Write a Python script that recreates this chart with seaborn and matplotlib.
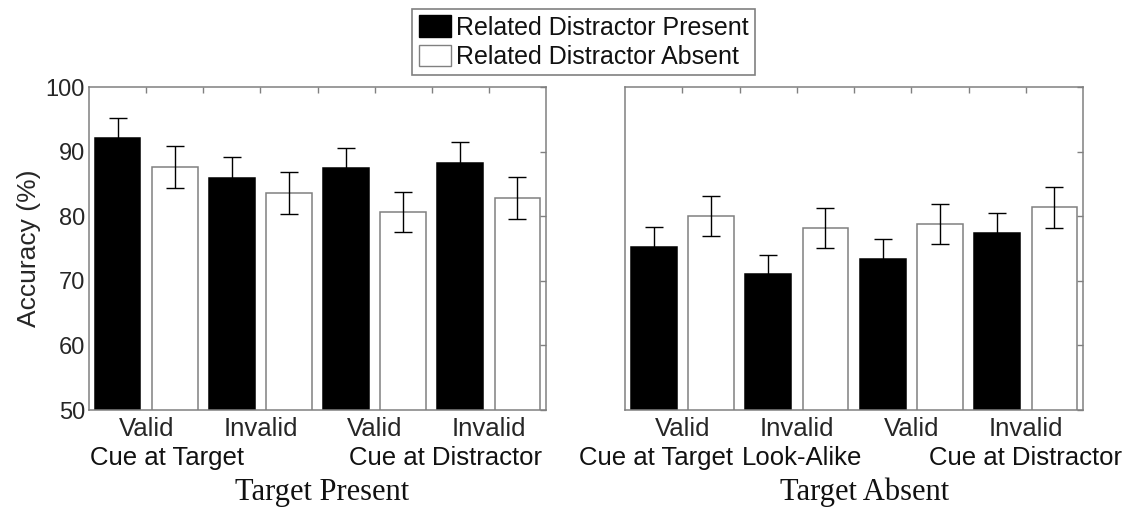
import numpy as np
import pandas as pd
import matplotlib
matplotlib.use("Agg")
import matplotlib.pyplot as plt
import matplotlib.transforms as mtransforms
from matplotlib.patches import Patch
import seaborn as sns

# values (accuracy in %, error = half length of error bar)
cue_labels = ["Valid", "Invalid", "Valid", "Invalid"]
distractor_levels = ["Related Distractor Present", "Related Distractor Absent"]

present_rd_acc = [92.1, 85.9, 87.4, 88.2]
present_rd_err = [3.1, 3.3, 3.2, 3.3]
present_nrd_acc = [87.6, 83.6, 80.7, 82.8]
present_nrd_err = [3.2, 3.2, 3.1, 3.2]

absent_rd_acc = [75.2, 71.0, 73.4, 77.4]
absent_rd_err = [3.2, 3.0, 3.1, 3.1]
absent_nrd_acc = [80.0, 78.2, 78.8, 81.4]
absent_nrd_err = [3.1, 3.1, 3.1, 3.2]

panel_names = ["Target Present", "Target Absent"]
present_sub = ["Cue at Target", "Cue at Distractor"]
absent_sub = ["Cue at Target", "Look-Alike", "Cue at Distractor"]

cond_keys = ["c1", "c2", "c3", "c4"]


def make_df(rd_acc, rd_err, nrd_acc, nrd_err):
    rows = []
    for k, a, e in zip(cond_keys, rd_acc, rd_err):
        rows.append((k, distractor_levels[0], a, e))
    for k, a, e in zip(cond_keys, nrd_acc, nrd_err):
        rows.append((k, distractor_levels[1], a, e))
    return pd.DataFrame(rows, columns=["cond", "distractor", "acc", "err"])


df_present = make_df(present_rd_acc, present_rd_err, present_nrd_acc, present_nrd_err)
df_absent = make_df(absent_rd_acc, absent_rd_err, absent_nrd_acc, absent_nrd_err)

sns.set_style("white")
plt.rcParams["font.family"] = ["Liberation Sans", "DejaVu Sans"]
plt.rcParams["text.color"] = "#111111"

GRAY = "#808080"
palette = {distractor_levels[0]: "black", distractor_levels[1]: "white"}

fig = plt.figure(figsize=(11.27, 5.08), dpi=100)
ax1 = fig.add_axes([0.0790, 0.1929, 0.4055, 0.6358])
ax2 = fig.add_axes([0.5546, 0.1929, 0.4064, 0.6358])

# sub label placement (x in category units)
sub_pos = {
    0: [0.18, 2.62],
    1: [-0.23, 1.05, 3.0],
}
xlabel_x = [0.509, 0.524]

for i, (ax, df, subs) in enumerate(zip([ax1, ax2], [df_present, df_absent],
                                       [present_sub, absent_sub])):
    sns.barplot(data=df, x="cond", y="acc", hue="distractor", order=cond_keys,
                hue_order=distractor_levels, palette=palette, saturation=1,
                width=1.0, gap=0.2, edgecolor=GRAY, linewidth=1.1,
                errorbar=None, legend=False, ax=ax)

    for cont, level in zip(ax.containers, distractor_levels):
        sub = df[df["distractor"] == level].set_index("cond").loc[cond_keys]
        xs = [p.get_x() + p.get_width() / 2 for p in cont]
        if level == distractor_levels[0]:
            for p in cont:
                p.set_edgecolor("black")
        ax.errorbar(xs, sub["acc"], yerr=sub["err"], fmt="none",
                    ecolor="black", elinewidth=1.0, capsize=6.5,
                    capthick=1.0, zorder=3)

    ax.set_xlim(-0.5, 3.5)
    ax.set_ylim(50, 100)
    ax.set_xticks(np.arange(0, 3.01, 0.5))
    ax.set_xticklabels(["Valid", "", "Invalid", "", "Valid", "", "Invalid"])
    ax.set_yticks([50, 60, 70, 80, 90, 100])
    ax.tick_params(direction="in", top=True, right=True, length=4, width=1,
                   color=GRAY)
    ax.tick_params(axis="x", labelsize=18.5, pad=5)
    ax.tick_params(axis="y", labelsize=17, pad=3)
    for s in ax.spines.values():
        s.set_visible(True)
        s.set_color(GRAY)
        s.set_linewidth(1.1)

    trans = mtransforms.blended_transform_factory(ax.transData, ax.transAxes)
    for txt, xp in zip(subs, sub_pos[i]):
        ax.text(xp, -0.170, txt, transform=trans, ha="center", va="baseline",
                fontsize=18.5, clip_on=False)

    ax.text(xlabel_x[i], -0.279, panel_names[i], transform=ax.transAxes,
            ha="center", va="baseline", fontsize=22,
            family=["Liberation Serif", "DejaVu Serif"])
    ax.set_xlabel("")

ax1.set_ylabel("Accuracy (%)", fontsize=19, labelpad=3)
ax2.set_ylabel("")
ax2.set_yticklabels([])

handles = [Patch(facecolor="black", edgecolor="black", linewidth=1.0),
           Patch(facecolor="white", edgecolor=GRAY, linewidth=1.0)]
leg = fig.legend(handles, distractor_levels, loc="upper center",
                 bbox_to_anchor=(0.518, 0.982), fontsize=18, frameon=True,
                 fancybox=False, edgecolor=GRAY, framealpha=1,
                 handlelength=1.3, handleheight=0.95, handletextpad=0.2,
                 labelspacing=0.2, borderpad=0.25, borderaxespad=0)
leg.get_frame().set_linewidth(1.2)

fig.savefig("out.png", dpi=100, facecolor="white")
